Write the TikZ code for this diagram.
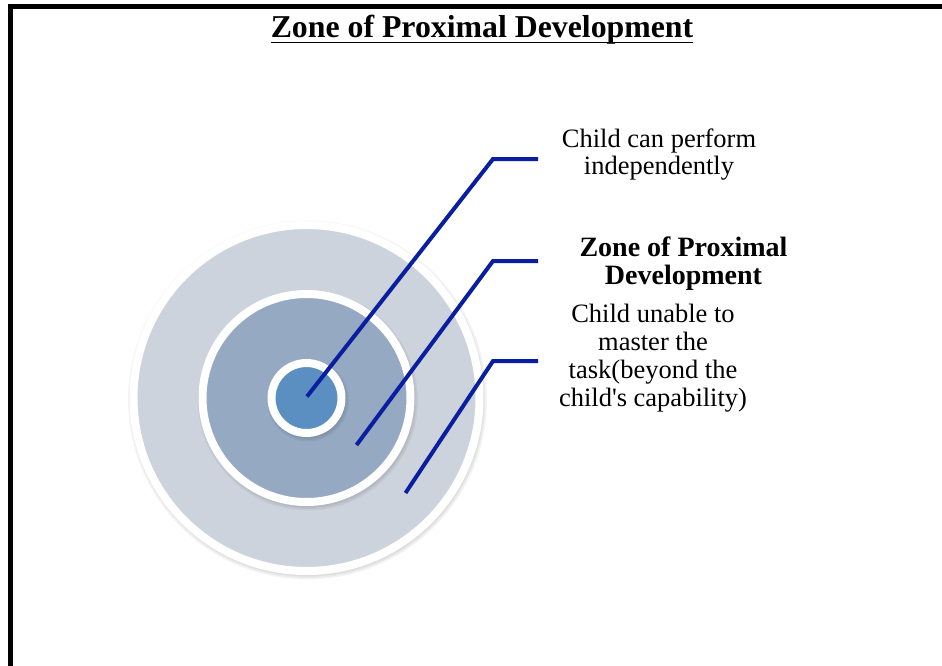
\documentclass[tikz,border=0pt]{standalone}
\usepackage{fontspec}
\setmainfont{Liberation Serif}
\usetikzlibrary{calc}
\definecolor{ringA}{HTML}{CDD3DD}
\definecolor{ringB}{HTML}{95A9C3}
\definecolor{ringC}{HTML}{5B8EC1}
\definecolor{leadblue}{HTML}{0A1FA0}
\begin{document}
\begin{tikzpicture}[x=1pt,y=-1pt,
  ring/.style={circle,draw=white,line width=8pt,inner sep=0pt},
  leader/.style={draw=leadblue,line width=4pt,line join=miter},
  lbl/.style={align=center,font=\fontsize{26.5}{28}\selectfont,inner sep=0pt},
  shade/.style={fill=black,opacity=0.045}]
\useasboundingbox (0,0) rectangle (942,666);
\fill[white] (0,0) rectangle (942,666);
% frame
\draw[line width=4.5pt] (10.5,666) -- (10.5,6.5) -- (942,6.5);
% title
\node[font=\bfseries\fontsize{31.8}{33}\selectfont,anchor=base,inner sep=0pt] (title) at (482,38) {Zone of Proximal Development};
\draw[line width=1.6pt] ($(title.base west)+(0,4.5)$) -- ($(title.base east)+(0,4.5)$);
% outer ring
\foreach \d in {0,1.5,3} {\fill[shade] (307.5,400) circle ({179.5-\d});}
\node[ring,fill=ringA,minimum size=346pt] (outer) at (306.5,398) {};
% middle ring
\foreach \d in {0,1.5,3} {\fill[shade] (308,400.5) circle ({110-\d});}
\node[ring,fill=ringB,minimum size=208pt] (middle) at (306.5,398) {};
% inner ring
\foreach \d in {0,1.5,3} {\fill[shade] (308,400.5) circle ({41-\d});}
\node[ring,fill=ringC,minimum size=70pt] (inner) at (306.5,398) {};
% labels
\node[lbl,anchor=base] (t1) at (659,175) {Child can perform\\independently};
\node[lbl,font=\bfseries\fontsize{28}{28}\selectfont,anchor=base] (t2) at (683.5,284) {Zone of Proximal\\Development};
\node[lbl,anchor=base] (t3) at (653,406.7) {Child unable to\\master the\\task(beyond the\\child\textquotesingle s capability)};
% leader lines
\coordinate (p1) at (307,396.5);
\coordinate (e1) at (493,159);
\coordinate (f1) at (538,159);
\coordinate (p2) at (356.5,445);
\coordinate (e2) at (493,261);
\coordinate (f2) at (538,261);
\coordinate (p3) at (405.5,493);
\coordinate (e3) at (493,361);
\coordinate (f3) at (538,361);
\draw[leader] (p1) -- (e1) -- (f1);
\draw[leader] (p2) -- (e2) -- (f2);
\draw[leader] (p3) -- (e3) -- (f3);
\end{tikzpicture}
\end{document}
